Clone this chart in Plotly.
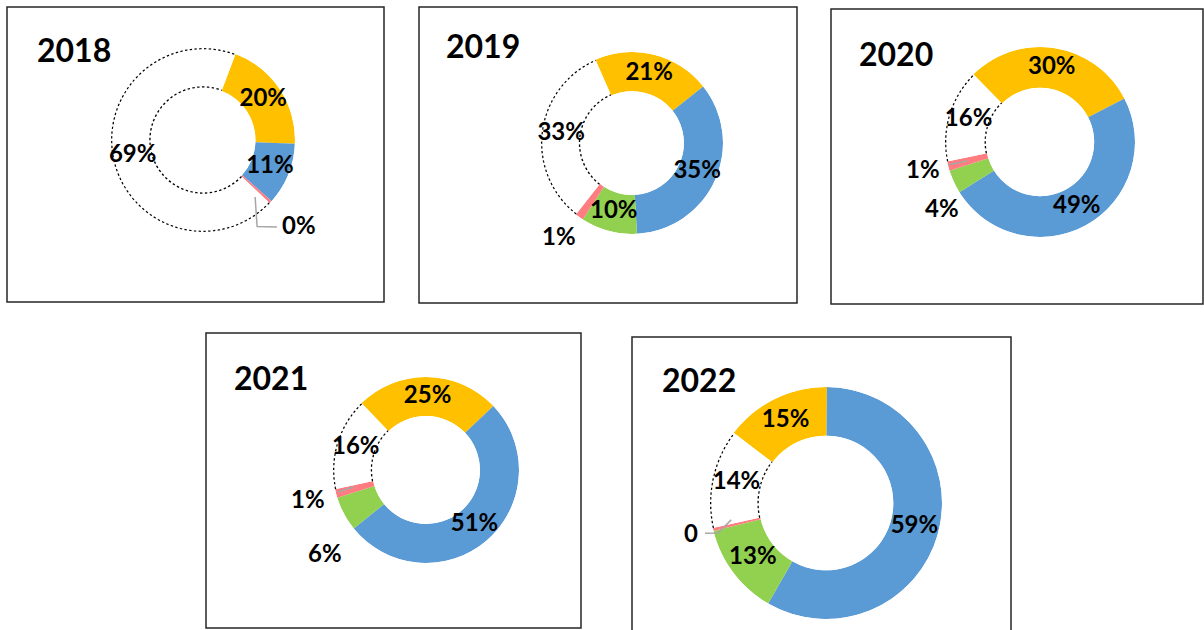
import numpy as np
import plotly.graph_objects as go

W, H = 1204, 630

# ---------------- data ----------------
years = ["2018", "2019", "2020", "2021", "2022"]
categories = ["Yellow", "Blue", "Green", "Red", "Other (dotted)"]
colors = ["#FFC000", "#5B9BD5", "#92D050", "#FF7C80", "#FFFFFF"]

v2018 = [20, 11, 0, 0.45, 69]
v2019 = [21, 35, 10, 1.5, 33]
v2020 = [30, 49, 4, 1.6, 16]
v2021 = [25, 51, 6, 1.5, 16]
v2022 = [15, 59, 13, 0.4, 14]

t2018 = ["20%", "11%", "", "0%", "69%"]
t2019 = ["21%", "35%", "10%", "1%", "33%"]
t2020 = ["30%", "49%", "4%", "1%", "16%"]
t2021 = ["25%", "51%", "6%", "1%", "16%"]
t2022 = ["15%", "59%", "13%", "0", "14%"]

values = {"2018": v2018, "2019": v2019, "2020": v2020, "2021": v2021, "2022": v2022}
texts = {"2018": t2018, "2019": t2019, "2020": t2020, "2021": t2021, "2022": t2022}

# ---------------- layout / style ----------------
style = {
    "2018": dict(cx=203, cy=140, ro=92, hole=0.57, start=20.7, box=(7, 7, 384, 302), title=(35, 50)),
    "2019": dict(cx=632, cy=143, ro=91, hole=0.57, start=-23.7, box=(419, 7, 797, 303), title=(444, 46)),
    "2020": dict(cx=1040, cy=142, ro=95, hole=0.57, start=-44.6, box=(831, 9, 1203, 304), title=(857, 53)),
    "2021": dict(cx=426, cy=470, ro=93, hole=0.58, start=-44, box=(206, 333, 581, 628), title=(232, 377)),
    "2022": dict(cx=826, cy=503, ro=116, hole=0.58, start=-52.8, box=(632, 337, 1011, 634), title=(660, 379)),
}
# outside label placement: slice index -> (radius / outer radius, angle nudge in degrees)
outside = {
    "2018": {3: (1.39, -1)},
    "2019": {3: (1.30, 3)},
    "2020": {3: (1.26, 2), 2: (1.24, -9)},
    "2021": {3: (1.31, 1), 2: (1.40, -11)},
    "2022": {3: (1.19, 1)},
}
# small grey leader lines: (radius / outer radius, screen angle clockwise from top)
leaders = {
    "2018": [(0.84, 137.6), (1.11, 148), (1.24, 139.6)],
    "2020": [(0.99, 256), (0.79, 255.4)],
    "2021": [(0.98, 256), (0.80, 256.8)],
    "2022": [(1.075, 256), (0.966, 254.5), (0.83, 259.9)],
}

label_font = dict(family="Lato", size=24, color="#000000", weight="bold")
title_font = dict(family="Lato", size=32, color="#000000", weight="bold")

fig = go.Figure()
shapes = []
annotations = []
layout_polars = {}


def px_to_paper(x, y):
    return x / W, 1 - y / H


for i, yr in enumerate(years):
    st = style[yr]
    vals = np.array(values[yr], dtype=float)
    widths = vals / vals.sum() * 360.0
    ends = np.cumsum(widths)
    starts = ends - widths
    mids = starts + widths / 2
    h = st["hole"]
    cx, cy, ro = st["cx"], st["cy"], st["ro"]
    key = "polar" if i == 0 else f"polar{i+1}"

    def polar_px(rr, screen_deg):
        a = np.deg2rad(screen_deg)
        return cx + rr * ro * np.sin(a), cy - rr * ro * np.cos(a)

    # ring segments
    fig.add_trace(go.Barpolar(
        r=[1] * len(vals), theta=mids, width=widths, base=0,
        marker=dict(color=colors, line=dict(width=0)),
        subplot=key, hoverinfo="skip", showlegend=False,
    ))

    # dotted outline of the "other" slice (outer and inner arcs)
    th = np.linspace(starts[4], ends[4], 200)
    for rv in (1.0, 0.0):
        fig.add_trace(go.Scatterpolar(
            r=[rv] * len(th), theta=th, mode="lines",
            line=dict(color="#000000", width=2.6, dash="2.4px,2.4px"),
            subplot=key, hoverinfo="skip", showlegend=False, cliponaxis=False,
        ))

    # labels: inside ones through the polar axes, outside ones as annotations
    lr, lt, ltx = [], [], []
    for j, txt in enumerate(texts[yr]):
        if not txt:
            continue
        if j in outside.get(yr, {}):
            rr, dth = outside[yr][j]
            x, y = polar_px(rr, st["start"] + mids[j] + dth)
            xp, yp = px_to_paper(x, y)
            annotations.append(dict(text=txt, x=xp, y=yp, xref="paper", yref="paper",
                                    xanchor="center", yanchor="middle", showarrow=False,
                                    font=label_font))
        else:
            lr.append(0.5)
            lt.append(mids[j])
            ltx.append(txt)
    fig.add_trace(go.Scatterpolar(
        r=lr, theta=lt, text=ltx, mode="text", textposition="middle center",
        textfont=label_font, subplot=key, hoverinfo="skip", showlegend=False,
        cliponaxis=False,
    ))

    # leader lines
    if yr in leaders:
        pts = [px_to_paper(*polar_px(rr, a)) for rr, a in leaders[yr]]
        path = "M " + " L ".join(f"{x:.5f},{y:.5f}" for x, y in pts)
        shapes.append(dict(type="path", xref="paper", yref="paper", path=path,
                           line=dict(color="#A6A6A6", width=1.5)))

    layout_polars[key] = dict(
        domain=dict(x=[(cx - ro) / W, (cx + ro) / W], y=[1 - (cy + ro) / H, 1 - (cy - ro) / H]),
        hole=h, bgcolor="rgba(0,0,0,0)", bargap=0,
        radialaxis=dict(range=[0, 1], visible=False),
        angularaxis=dict(visible=False, direction="clockwise", rotation=90 - st["start"]),
    )

    x0, y0, x1, y1 = st["box"]
    shapes.append(dict(type="rect", xref="paper", yref="paper",
                       x0=x0 / W, x1=x1 / W, y0=1 - y1 / H, y1=1 - y0 / H,
                       line=dict(color="#262626", width=1.5), fillcolor="rgba(0,0,0,0)", layer="below"))
    tx, ty = st["title"]
    annotations.append(dict(text=yr, x=tx / W, y=1 - ty / H, xref="paper", yref="paper",
                            xanchor="left", yanchor="middle", showarrow=False, font=title_font))

fig.update_layout(
    width=W, height=H, margin=dict(l=0, r=0, t=0, b=0),
    paper_bgcolor="white", plot_bgcolor="white",
    shapes=shapes, annotations=annotations, showlegend=False,
    **layout_polars,
)

fig.write_html("out.html", config={"displayModeBar": False},
               post_script="document.body.style.margin='0px';document.body.style.overflow='hidden';")
